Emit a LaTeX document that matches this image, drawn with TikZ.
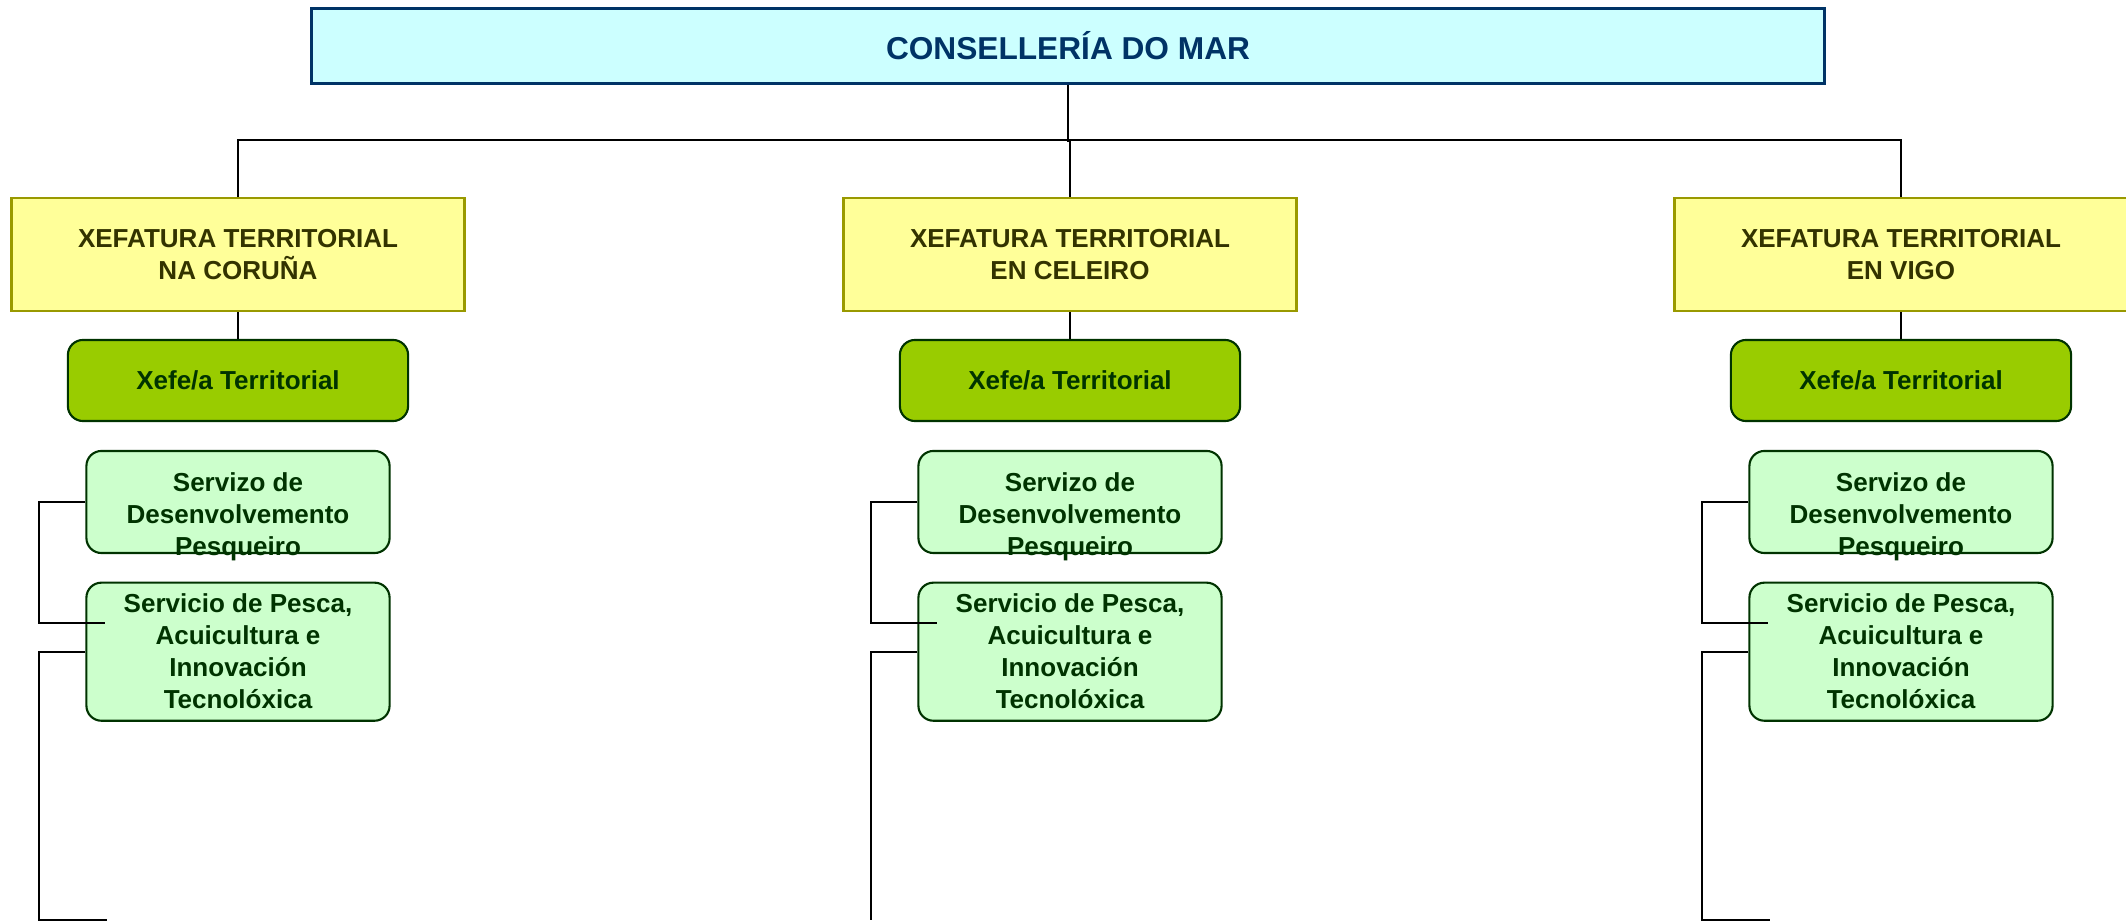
\documentclass[tikz,border=0pt]{standalone}
\usepackage{fontspec}
\setmainfont{Liberation Sans}
\definecolor{marfill}{HTML}{CCFFFF}
\definecolor{marline}{HTML}{003366}
\definecolor{xtfill}{HTML}{FFFF99}
\definecolor{xtline}{HTML}{999900}
\definecolor{xttext}{HTML}{333300}
\definecolor{xffill}{HTML}{99CC00}
\definecolor{svfill}{HTML}{CCFFCC}
\definecolor{svtext}{HTML}{003300}

\begin{document}
\begin{tikzpicture}[x=0.01cm, y=-0.01cm,
    conselleria/.style={draw=marline, fill=marfill, line width=0.75pt, minimum width=15.12cm, minimum height=0.75cm, text=marline, font=\fontsize{9}{11}\selectfont\bfseries},
    xefatura/.style={draw=xtline, fill=xtfill, line width=0.65pt, minimum width=4.53cm, minimum height=1.13cm, align=center, text=xttext, font=\fontsize{7.4}{9.1}\selectfont\bfseries},
    xefe/.style={draw=svtext, fill=xffill, line width=0.6pt, rounded corners=0.15cm, minimum width=3.4cm, minimum height=0.81cm, text=svtext, font=\fontsize{7.4}{9.1}\selectfont\bfseries},
    servizo/.style={draw=svtext, fill=svfill, line width=0.6pt, rounded corners=0.15cm, minimum width=3.03cm, inner sep=1pt, align=center, text=svtext, font=\fontsize{7.4}{9.1}\selectfont\bfseries},
    svlabel/.style={align=center, text=svtext, font=\fontsize{7.4}{9.1}\selectfont\bfseries},
    link/.style={line width=0.55pt}]
    \useasboundingbox (0,0) rectangle (2126,922);
    \node[conselleria] (mar) at (1068,46) {CONSELLERÍA DO MAR};
    \draw[link] (mar.south) -- ++(0,57);
    \foreach \k/\cx/\place/\tail in {1/238/NA CORUÑA/68, 2/1070/EN CELEIRO/0, 3/1901/EN VIGO/68} {
        \node[xefatura] (xt\k) at (\cx,254.5) {XEFATURA TERRITORIAL\\\place};
        \node[xefe] (xf\k) at (\cx,380.5) {Xefe/a Territorial};
        \node[servizo, minimum height=1.02cm,
              label={[svlabel, yshift=-0.15cm]center:Servizo de\\Desenvolvemento\\Pesqueiro}] (sd\k) at (\cx,502) {};
        \node[servizo, minimum height=1.38cm] (sp\k) at (\cx,651.7) {Servicio de Pesca,\\Acuicultura e\\Innovación\\Tecnolóxica};
        \draw[link] (xt\k.south) -- (xf\k.north);
        \draw[link] (sd\k.west) -- ++(-46,0) -- ++(0,121) -- ++(66,0);
        \draw[link] (sp\k.west) -- ++(-46,0) -- ++(0,268) -- ++(\tail,0);
    }
    \draw[link] (xt1.north) -- ++(0,-57) -| (xt3.north);
    \draw[link] (xt2.north) -- ++(0,-57);
\end{tikzpicture}
\end{document}
